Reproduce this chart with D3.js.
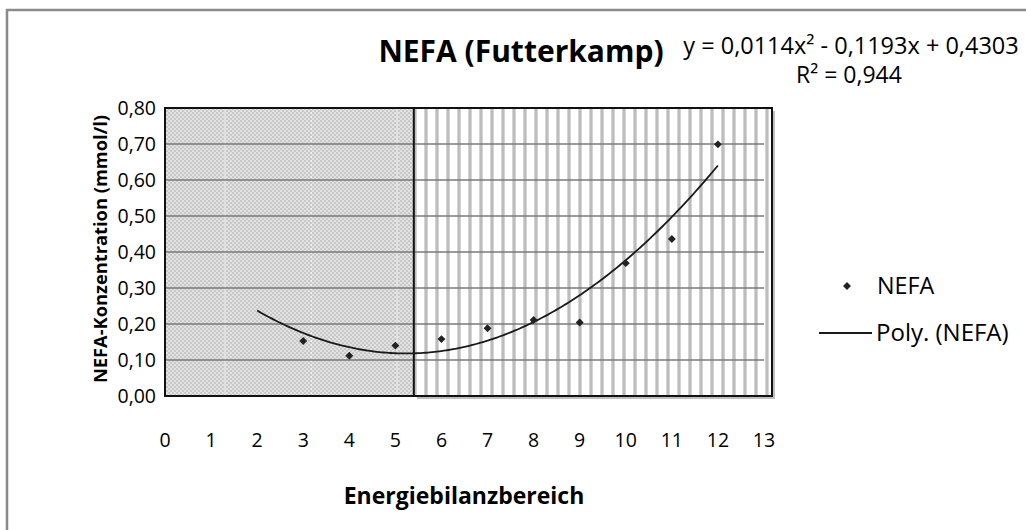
<!DOCTYPE html>
<html><head><meta charset="utf-8">
<script src="https://cdn.jsdelivr.net/npm/d3@7"></script>
<style>html,body{margin:0;padding:0;background:#fff;}svg{display:block;}</style>
</head><body>
<svg id="chart" width="1026" height="530"></svg>
<script>
const xValues = [3, 4, 5, 6, 7, 8, 9, 10, 11, 12];
const nefaValues = [0.153, 0.112, 0.140, 0.158, 0.188, 0.211, 0.204, 0.369, 0.436, 0.699];
const trendCoefficients = [0.4303, -0.1193, 0.0114]; // c0 + c1 x + c2 x^2
const trendRange = [2, 12];
const xTicks = [0,1,2,3,4,5,6,7,8,9,10,11,12,13];
const yTicks = [0,0.1,0.2,0.3,0.4,0.5,0.6,0.7,0.8];
const yTickLabels = ["0,00","0,10","0,20","0,30","0,40","0,50","0,60","0,70","0,80"];
const zoneSplit = 5.4;
const titleText = "NEFA (Futterkamp)";
const equationText = "y = 0,0114x² - 0,1193x + 0,4303";
const r2Text = "R² = 0,944";
const xAxisTitle = "Energiebilanzbereich";
const yAxisTitle = "NEFA-Konzentration (mmol/l)";
const legendLabels = ["NEFA", "Poly. (NEFA)"];

const FONT = "'Open Sans', 'DejaVu Sans', sans-serif";
const svg = d3.select("#chart");
const x = d3.scaleLinear().domain([0, 13]).range([165, 764]);
const y = d3.scaleLinear().domain([0, 0.8]).range([396, 108]);

const defs = svg.append("defs");
const chk = defs.append("pattern").attr("id","chk").attr("patternUnits","userSpaceOnUse")
  .attr("width",4).attr("height",4);
chk.append("rect").attr("width",4).attr("height",4).attr("fill","#e2e2e2");
chk.append("rect").attr("width",2).attr("height",2).attr("fill","#c8c8c8");
chk.append("rect").attr("x",2).attr("y",2).attr("width",2).attr("height",2).attr("fill","#c8c8c8");
const str = defs.append("pattern").attr("id","str").attr("patternUnits","userSpaceOnUse")
  .attr("width",11).attr("height",10).attr("x",3);
str.append("rect").attr("width",11).attr("height",10).attr("fill","#ffffff");
str.append("rect").attr("x",3).attr("width",4).attr("height",10).attr("fill","#d4d4d4");
str.append("rect").attr("x",4).attr("width",2).attr("height",10).attr("fill","#bdbdbd");

// outer border
svg.append("rect").attr("x",7).attr("y",10).attr("width",1040).attr("height",540)
  .attr("fill","none").attr("stroke","#8a8a8a").attr("stroke-width",2.5);

const xs = x(zoneSplit);
svg.append("rect").attr("x",xs+3).attr("y",y(0.8)+3).attr("width",772-xs).attr("height",y(0)-y(0.8))
  .attr("fill","#bfbfbf");
svg.append("rect").attr("x",x(0)).attr("y",y(0.8)).attr("width",xs-x(0)).attr("height",y(0)-y(0.8))
  .attr("fill","url(#chk)");
svg.append("rect").attr("x",xs).attr("y",y(0.8)).attr("width",772-xs).attr("height",y(0)-y(0.8))
  .attr("fill","url(#str)");

[225, 311.5, 397].forEach(px => {
  svg.append("line").attr("x1",px).attr("x2",px).attr("y1",y(0.8)).attr("y2",y(0))
    .attr("stroke","#f4f4f4").attr("stroke-width",1).attr("stroke-dasharray","2,2");
});

svg.append("g").selectAll("line").data(yTicks.slice(1,-1)).join("line")
  .attr("x1",x(0)).attr("x2",x(13)).attr("y1",d=>y(d)).attr("y2",d=>y(d))
  .attr("stroke","#7a7a7a").attr("stroke-width",1.5);

svg.append("rect").attr("x",x(0)).attr("y",y(0.8)).attr("width",772-x(0)).attr("height",y(0)-y(0.8))
  .attr("fill","none").attr("stroke","#111").attr("stroke-width",2);
svg.append("line").attr("x1",xs).attr("x2",xs).attr("y1",y(0.8)).attr("y2",y(0))
  .attr("stroke","#111").attr("stroke-width",2);

const tx = d3.range(trendRange[0], trendRange[1] + 0.001, 0.05);
const line = d3.line().x(d=>x(d)).y(d=>y(trendCoefficients[0]+trendCoefficients[1]*d+trendCoefficients[2]*d*d));
svg.append("path").datum(tx).attr("d",line).attr("fill","none").attr("stroke","#1a1a1a").attr("stroke-width",1.8);

const diamond = d3.symbol().type(d3.symbolDiamond2).size(40);
svg.append("g").selectAll("path").data(xValues.map((v,i)=>[v,nefaValues[i]])).join("path")
  .attr("d",diamond).attr("transform",d=>`translate(${x(d[0])},${y(d[1])})`).attr("fill","#222");

svg.append("g").selectAll("text").data(yTicks).join("text")
  .attr("x",156).attr("y",d=>y(d)).attr("dy","0.35em").attr("text-anchor","end")
  .attr("font-family",FONT).attr("font-size",19.5).attr("fill","#000")
  .text((d,i)=>yTickLabels[i]);
svg.append("g").selectAll("text").data(xTicks).join("text")
  .attr("x",d=>x(d)).attr("y",440).attr("dy","0.35em").attr("text-anchor","middle")
  .attr("font-family",FONT).attr("font-size",19.5).attr("fill","#000")
  .text(d=>d);

svg.append("text").attr("x",521).attr("y",62).attr("text-anchor","middle")
  .attr("font-family",FONT).attr("font-weight","bold").attr("font-size",30).text(titleText);
svg.append("text").attr("x",851).attr("y",54).attr("text-anchor","middle")
  .attr("font-family",FONT).attr("font-size",23.5).text(equationText);
svg.append("text").attr("x",849).attr("y",83).attr("text-anchor","middle")
  .attr("font-family",FONT).attr("font-size",23).text(r2Text);
svg.append("text").attr("x",464).attr("y",496).attr("dy","0.35em").attr("text-anchor","middle")
  .attr("font-family",FONT).attr("font-weight","bold").attr("font-size",23).text(xAxisTitle);
svg.append("text").attr("transform","translate(101,249) rotate(-90)").attr("dy","0.35em").attr("text-anchor","middle")
  .attr("font-family",FONT).attr("font-weight","bold").attr("font-size",18.3).text(yAxisTitle);

svg.append("path").attr("d",diamond).attr("transform","translate(847,286)").attr("fill","#222");
svg.append("text").attr("x",877).attr("y",286).attr("dy","0.35em")
  .attr("font-family",FONT).attr("font-size",23.3).text(legendLabels[0]);
svg.append("line").attr("x1",819).attr("x2",872).attr("y1",333).attr("y2",333).attr("stroke","#1a1a1a").attr("stroke-width",1.8);
svg.append("text").attr("x",876).attr("y",333).attr("dy","0.35em")
  .attr("font-family",FONT).attr("font-size",24).text(legendLabels[1]);
</script>
</body></html>
